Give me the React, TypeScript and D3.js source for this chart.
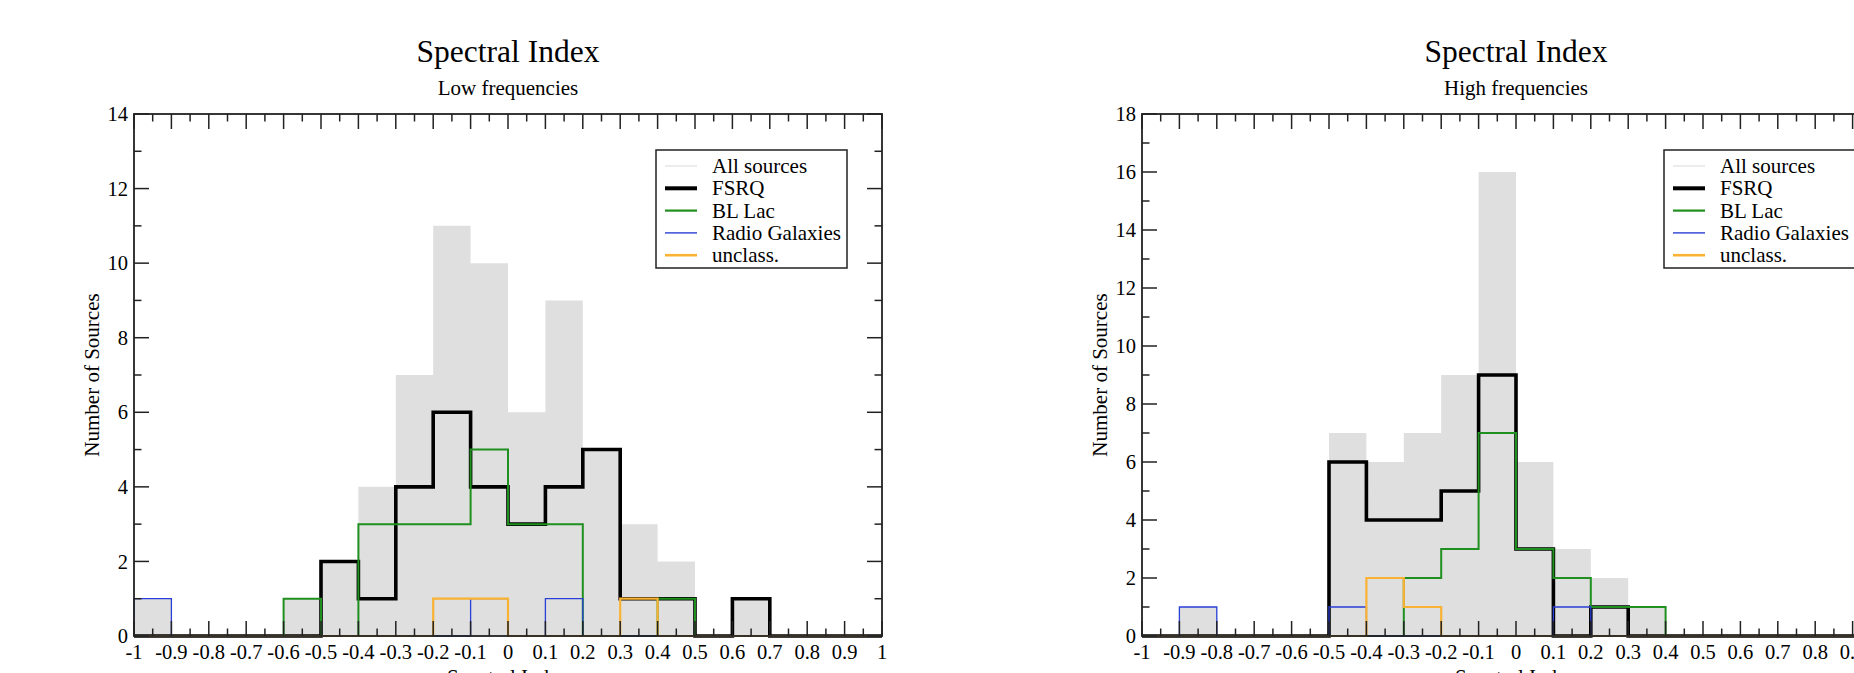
import React from "react";
import * as d3 from "d3";

const binEdges = [-1, -0.9, -0.8, -0.7, -0.6, -0.5, -0.4, -0.3, -0.2, -0.1, 0, 0.1, 0.2, 0.3, 0.4, 0.5, 0.6, 0.7, 0.8, 0.9, 1];
const xMinorTicks = [-0.95, -0.85, -0.75, -0.65, -0.55, -0.45, -0.35, -0.25, -0.15, -0.05, 0.05, 0.15, 0.25, 0.35, 0.45, 0.55, 0.65, 0.75, 0.85, 0.95];
const xTickLabels = ["-1", "-0.9", "-0.8", "-0.7", "-0.6", "-0.5", "-0.4", "-0.3", "-0.2", "-0.1", "0", "0.1", "0.2", "0.3", "0.4", "0.5", "0.6", "0.7", "0.8", "0.9", "1"];

// Low frequencies
const lowAll = [1, 0, 0, 0, 1, 2, 4, 7, 11, 10, 6, 9, 5, 3, 2, 0, 1, 0, 0, 0];
const lowFSRQ = [0, 0, 0, 0, 0, 2, 1, 4, 6, 4, 3, 4, 5, 1, 1, 0, 1, 0, 0, 0];
const lowBL = [0, 0, 0, 0, 1, 0, 3, 3, 3, 5, 3, 3, 0, 0, 1, 0, 0, 0, 0, 0];
const lowRG = [1, 0, 0, 0, 0, 0, 0, 0, 0, 1, 0, 1, 0, 0, 0, 0, 0, 0, 0, 0];
const lowUnc = [0, 0, 0, 0, 0, 0, 0, 0, 1, 1, 0, 0, 0, 1, 0, 0, 0, 0, 0, 0];
const lowYMajor = [0, 2, 4, 6, 8, 10, 12, 14];
const lowYMinor = [1, 3, 5, 7, 9, 11, 13];

// High frequencies
const highAll = [0, 1, 0, 0, 0, 7, 6, 7, 9, 16, 6, 3, 2, 1, 0, 0, 0, 0, 0, 0];
const highFSRQ = [0, 0, 0, 0, 0, 6, 4, 4, 5, 9, 3, 0, 1, 0, 0, 0, 0, 0, 0, 0];
const highBL = [0, 0, 0, 0, 0, 0, 0, 2, 3, 7, 3, 2, 1, 1, 0, 0, 0, 0, 0, 0];
const highRG = [0, 1, 0, 0, 0, 1, 0, 0, 0, 0, 0, 1, 0, 0, 0, 0, 0, 0, 0, 0];
const highUnc = [0, 0, 0, 0, 0, 0, 2, 1, 0, 0, 0, 0, 0, 0, 0, 0, 0, 0, 0, 0];
const highYMajor = [0, 2, 4, 6, 8, 10, 12, 14, 16, 18];
const highYMinor = [1, 3, 5, 7, 9, 11, 13, 15, 17];

const legendNames = ["All sources", "FSRQ", "BL Lac", "Radio Galaxies", "unclass."];

const GRAY = "#dfdfdf";
const BLACK = "#000000";
const GREEN = "#1f8f1f";
const BLUE = "#2a3fd6";
const ORANGE = "#f9b233";
const FONT = "'Liberation Serif', 'DejaVu Serif', serif";

function stepPoints(vals: number[]): [number, number][] {
  const pts: [number, number][] = [[binEdges[0], 0]];
  vals.forEach((v, i) => {
    pts.push([binEdges[i], v]);
    pts.push([binEdges[i + 1], v]);
  });
  pts.push([binEdges[binEdges.length - 1], 0]);
  return pts;
}

type PanelProps = {
  left: number;
  subtitle: string;
  yMax: number;
  yMajor: number[];
  yMinor: number[];
  all: number[];
  fsrq: number[];
  bl: number[];
  rg: number[];
  unc: number[];
};

function Panel(p: PanelProps) {
  const top = 114;
  const bottom = 636;
  const width = 748;
  const x = d3.scaleLinear().domain([-1, 1]).range([p.left, p.left + width]);
  const y = d3.scaleLinear().domain([0, p.yMax]).range([bottom, top]);
  const line = d3
    .line<[number, number]>()
    .x((d) => x(d[0]))
    .y((d) => y(d[1]));
  const area = d3
    .area<[number, number]>()
    .x((d) => x(d[0]))
    .y0(y(0))
    .y1((d) => y(d[1]));
  const right = p.left + width;
  const cx = p.left + width / 2;
  const majLen = 15;
  const minLen = 7.5;
  const tickStyle = { stroke: "#222", strokeWidth: 1.5 };
  const legX = p.left + 522;
  const legY = top + 36;
  const series = [
    { color: GRAY, w: 1.2 },
    { color: BLACK, w: 4 },
    { color: GREEN, w: 2.2 },
    { color: BLUE, w: 1.4 },
    { color: ORANGE, w: 2.6 },
  ];
  return (
    <g>
      <text x={cx} y={62} textAnchor="middle" fontSize={31.5} fontFamily={FONT} fill="#000">
        Spectral Index
      </text>
      <text x={cx} y={95} textAnchor="middle" fontSize={21} fontFamily={FONT} fill="#000">
        {p.subtitle}
      </text>
      <path d={area(stepPoints(p.all)) || ""} fill={GRAY} stroke="none" />
      <path d={line(stepPoints(p.fsrq)) || ""} fill="none" stroke={BLACK} strokeWidth={3.6} strokeLinejoin="miter" />
      <path d={line(stepPoints(p.bl)) || ""} fill="none" stroke={GREEN} strokeWidth={2} />
      <path d={line(stepPoints(p.rg)) || ""} fill="none" stroke={BLUE} strokeWidth={1.3} />
      <path d={line(stepPoints(p.unc)) || ""} fill="none" stroke={ORANGE} strokeWidth={2.2} />
      {/* frame */}
      <rect x={p.left} y={top} width={width} height={bottom - top} fill="none" stroke="#222" strokeWidth={1.8} />
      {/* x ticks */}
      {binEdges.map((v, i) => (
        <g key={"xm" + i}>
          <line x1={x(v)} x2={x(v)} y1={bottom} y2={bottom - majLen} style={tickStyle} />
          <line x1={x(v)} x2={x(v)} y1={top} y2={top + majLen} style={tickStyle} />
          <text x={x(v)} y={659} textAnchor="middle" fontSize={20.5} fontFamily={FONT} fill="#000">
            {xTickLabels[i]}
          </text>
        </g>
      ))}
      {xMinorTicks.map((v, i) => (
        <g key={"xn" + i}>
          <line x1={x(v)} x2={x(v)} y1={bottom} y2={bottom - minLen} style={tickStyle} />
          <line x1={x(v)} x2={x(v)} y1={top} y2={top + minLen} style={tickStyle} />
        </g>
      ))}
      {/* y ticks */}
      {p.yMajor.map((v, i) => (
        <g key={"ym" + i}>
          <line x1={p.left} x2={p.left + majLen} y1={y(v)} y2={y(v)} style={tickStyle} />
          <line x1={right} x2={right - majLen} y1={y(v)} y2={y(v)} style={tickStyle} />
          <text x={p.left - 6} y={y(v)} dy="0.35em" textAnchor="end" fontSize={20.5} fontFamily={FONT} fill="#000">
            {v}
          </text>
        </g>
      ))}
      {p.yMinor.map((v, i) => (
        <g key={"yn" + i}>
          <line x1={p.left} x2={p.left + minLen} y1={y(v)} y2={y(v)} style={tickStyle} />
          <line x1={right} x2={right - minLen} y1={y(v)} y2={y(v)} style={tickStyle} />
        </g>
      ))}
      {/* axis labels */}
      <text
        transform={`translate(${p.left - 35},${(top + bottom) / 2}) rotate(-90)`}
        textAnchor="middle"
        fontSize={21}
        fontFamily={FONT}
        fill="#000"
      >
        Number of Sources
      </text>
      <text x={cx} y={684} textAnchor="middle" fontSize={21} fontFamily={FONT} fill="#000">
        Spectral Index
      </text>
      {/* legend */}
      <rect x={legX} y={legY} width={191} height={118} fill="#fff" stroke="#222" strokeWidth={1.5} />
      {legendNames.map((name, i) => {
        const base = legY + 23 + i * 22.3;
        return (
          <g key={"lg" + i}>
            <line x1={legX + 9} x2={legX + 41} y1={base - 7} y2={base - 7} stroke={series[i].color} strokeWidth={series[i].w} />
            <text x={legX + 56} y={base} fontSize={21} fontFamily={FONT} fill="#000">
              {name}
            </text>
          </g>
        );
      })}
    </g>
  );
}

export default function App() {
  return (
    <svg
      width={1854}
      height={673}
      style={{ position: "absolute", left: 0, top: 0, background: "#fff", overflow: "hidden" }}
    >
      <rect x={0} y={0} width={1854} height={673} fill="#fff" />
      <Panel left={134} subtitle="Low frequencies" yMax={14} yMajor={lowYMajor} yMinor={lowYMinor} all={lowAll} fsrq={lowFSRQ} bl={lowBL} rg={lowRG} unc={lowUnc} />
      <Panel left={1142} subtitle="High frequencies" yMax={18} yMajor={highYMajor} yMinor={highYMinor} all={highAll} fsrq={highFSRQ} bl={highBL} rg={highRG} unc={highUnc} />
    </svg>
  );
}
